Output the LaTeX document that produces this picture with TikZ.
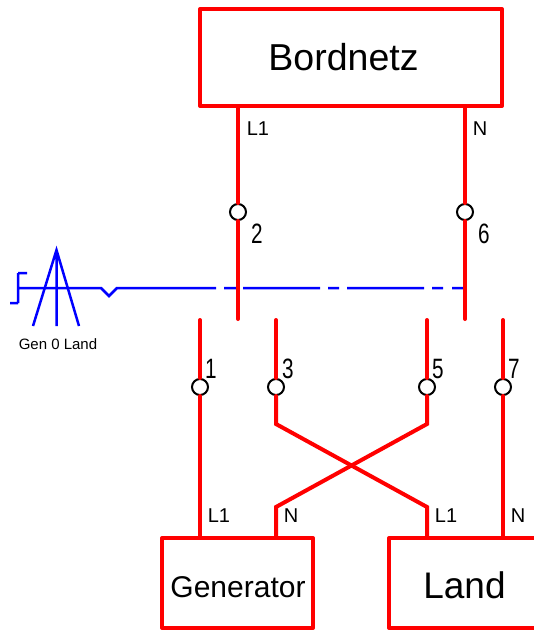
\documentclass[tikz,border=0pt]{standalone}
\usepackage{fontspec}
\setmainfont{Liberation Sans}
\begin{document}
\begin{tikzpicture}[x=1pt,y=-1pt]

    \tikzstyle{box}=[rectangle,draw=red,line width=4pt,inner sep=0pt,line join=round]
    \tikzstyle{contact}=[circle,draw=black,line width=2pt,fill=white,minimum size=16pt,inner sep=0pt]
    \tikzstyle{wire}=[draw=red,line width=4pt,line cap=round]
    \tikzstyle{link}=[draw=blue,line width=2.5pt]
    \tikzstyle{pin}=[font=\fontsize{20}{24}\selectfont]
    \tikzstyle{num}=[font=\fontsize{28}{34}\selectfont,xscale=0.74,transform shape]

    \useasboundingbox (0,0) rectangle (534,630);

    % switch rod
    \draw[link] (18,273)  -- (27,273)
                (18,273)  -- (18,303)
                (10,303)  -- (18,303)
                (18,288)  -- (101,288)
                          -- (109,296)
                          -- (117,288)
                          -- (216,288)
                (224,288) -- (237,288)
                (243,288) -- (320,288)
                (328,288) -- (339,288)
                (347,288) -- (424,288)
                (432,288) -- (443,288)
                (452,288) -- (465,288);
    \draw[link] (33,326)  -- (56.5,250) -- (79,326)
                (56.5,250) -- (56.5,326);
    \node[font=\fontsize{15}{18}\selectfont] (handle) at (58,344) {Gen 0 Land};

    \node[box,minimum width=302pt,minimum height=97pt] (bordnetz) at (351,57.5) {};
    \node[box,minimum width=151pt,minimum height=90pt] (generator) at (237.5,583) {};
    \node[box,minimum width=151pt,minimum height=90pt] (land) at (464.5,583) {};
    \node[font=\fontsize{37.5}{44}\selectfont] (bordnetzlabel) at (343.5,57) {Bordnetz};
    \node[font=\fontsize{30}{36}\selectfont] (generatorlabel) at (238,587) {Generator};
    \node[font=\fontsize{37}{44}\selectfont] (landlabel) at (464.5,585) {Land};

    \node[contact] (c2) at (238,212) {};
    \node[contact] (c6) at (465,212) {};
    \node[contact] (c1) at (200,387) {};
    \node[contact] (c3) at (276,387) {};
    \node[contact] (c5) at (427,387) {};
    \node[contact] (c7) at (503,387) {};

    \coordinate (e2) at (238,319);
    \coordinate (e6) at (465,319);
    \coordinate (s1) at (200,320);
    \coordinate (s3) at (276,320);
    \coordinate (s5) at (427,320);
    \coordinate (s7) at (503,320);
    \coordinate (a3) at (276,424);
    \coordinate (a5) at (427,424);
    \coordinate (b3) at (427,507);
    \coordinate (b5) at (276,507);

    \draw[wire] (bordnetz.south -| c2) -- (c2)
                (c2) -- (e2)
                (bordnetz.south -| c6) -- (c6)
                (c6) -- (e6)
                (s1) -- (c1)
                (c1) -- (generator.north -| c1)
                (s3) -- (c3)
                (s5) -- (c5)
                (s7) -- (c7)
                (c7) -- (land.north -| c7);
    \draw[wire] (c3) -- (a3) -- (b3) -- (land.north -| b3);
    \draw[wire] (c5) -- (a5) -- (b5) -- (generator.north -| b5);

    \node[pin] (pinl) at (258,129) {L1};
    \node[pin] (pinn) at (480,129) {N};
    \node[pin] (genl) at (219,516) {L1};
    \node[pin] (genn) at (291,516) {N};
    \node[pin] (lanl) at (446,516) {L1};
    \node[pin] (lann) at (518,516) {N};

    \node[num] (n2) at (257,234) {2};
    \node[num] (n6) at (484,234) {6};
    \node[num] (n1) at (211,369) {1};
    \node[num] (n3) at (288,369) {3};
    \node[num] (n5) at (438,369) {5};
    \node[num] (n7) at (514,369) {7};

\end{tikzpicture}
\end{document}
